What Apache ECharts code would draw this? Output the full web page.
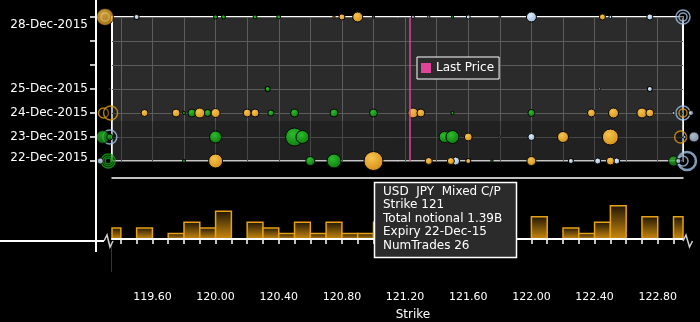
<!DOCTYPE html>
<html><head><meta charset="utf-8">
<script src="https://cdn.jsdelivr.net/npm/echarts@6/dist/echarts.min.js"></script>
<style>html,body{margin:0;padding:0;background:#000;}#c{width:700px;height:322px;}</style>
</head><body><div id="c"></div>
<script>
// ---------------- data ----------------
const expiryDays   = [22, 23, 24, 25, 26, 27, 28];
const expiryLabels = ['22-Dec-2015', '23-Dec-2015', '24-Dec-2015', '25-Dec-2015', '', '', '28-Dec-2015'];
const gridStrikes  = [119.4, 119.6, 119.8, 120.0, 120.2, 120.4, 120.6, 120.8, 121.0, 121.2, 121.4, 121.6, 121.8, 122.0, 122.2, 122.4, 122.6, 122.8];
const labelStrikes = [119.6, 120.0, 120.4, 120.8, 121.2, 121.6, 122.0, 122.4, 122.8];
const tickStrikes  = [119.4, 119.5, 119.6, 119.7, 119.8, 119.9, 120.0, 120.1, 120.2, 120.3, 120.4, 120.5, 120.6, 120.7, 120.8, 120.9,
                      121.0, 121.1, 121.2, 121.3, 121.4, 121.5, 121.6, 121.7, 121.8, 121.9, 122.0, 122.1, 122.2, 122.3, 122.4, 122.5,
                      122.6, 122.7, 122.8, 122.9];
const lastPrice = 121.23;

// [strike, expiry day (Dec 2015), total notional in USD millions]
const mixedTrades = [
  [120.75, 28, 22], [120.80, 28, 140], [120.90, 28, 385], [122.45, 28, 140],
  [119.55, 24, 190], [119.75, 24, 245], [119.90, 24, 385], [120.00, 24, 310], [120.20, 24, 245], [120.25, 24, 245],
  [121.25, 24, 385], [121.30, 24, 245], [122.38, 24, 245], [122.52, 24, 385], [122.70, 24, 385], [122.75, 24, 245],
  [121.60, 23, 245], [122.20, 23, 465], [122.50, 23, 985],
  [120.00, 22, 755], [121.00, 22, 1390], [121.35, 22, 190], [121.49, 22, 190], [121.60, 22, 95], [122.00, 22, 310], [122.50, 22, 245]
];
const callTrades = [
  [120.00, 28, 60], [120.05, 28, 60], [120.25, 28, 60], [120.40, 28, 60], [121.00, 28, 22], [121.50, 28, 22],
  [120.33, 25, 95],
  [119.80, 24, 35], [119.85, 24, 245], [119.95, 24, 190], [120.35, 24, 140], [120.50, 24, 245], [120.75, 24, 245],
  [121.00, 24, 245], [121.50, 24, 35], [122.00, 24, 190],
  [120.00, 23, 555], [120.50, 23, 1250], [120.55, 23, 650], [121.45, 23, 465], [121.50, 23, 650],
  [119.80, 22, 35], [120.60, 22, 310], [120.75, 22, 755], [121.75, 22, 22]
];
const putTrades = [
  [119.50, 28, 95], [121.25, 28, 35], [121.35, 28, 22], [121.60, 28, 60], [121.80, 28, 15], [122.00, 28, 385],
  [122.50, 28, 35], [122.75, 28, 140],
  [122.43, 25, 20], [122.75, 25, 95],
  [122.50, 24, 20],
  [121.80, 23, 15], [122.00, 23, 190],
  [121.52, 22, 245], [122.25, 22, 95], [122.42, 22, 140], [122.54, 22, 140]
];
// trades beyond the strike range, stacked at the plot edges: [strike, day, notional, type]
const edgeFilled = [
  [119.30, 28, 1110, 'mixed'], [119.33, 25, 15, 'call'], [119.285, 23, 650, 'call'], [119.33, 23, 140, 'call'],
  [119.27, 22, 140, 'put'], [122.90, 24, 35, 'put'], [123.01, 24, 95, 'put'], [123.03, 23, 385, 'put'],
  [122.97, 23, 35, 'put'], [122.90, 22, 385, 'call'], [122.93, 22, 95, 'put']
];
const edgeRings = [
  [119.30, 28, 250, 'put'], [119.29, 24, 385, 'mixed'], [119.335, 24, 755, 'mixed'], [119.33, 23, 755, 'put'],
  [119.32, 22, 755, 'call'], [119.32, 22, 385, 'call'], [119.32, 22, 140, 'call'],
  [122.96, 28, 755, 'put'], [122.96, 28, 250, 'put'], [122.96, 24, 755, 'put'], [122.96, 24, 250, 'mixed'],
  [122.945, 23, 555, 'mixed'], [122.985, 22, 1250, 'put'], [122.96, 22, 385, 'put']
];
// histogram of trades per 0.1 strike bin
const histBins   = [119.3, 119.5, 119.7, 119.8, 119.9, 120.0, 120.2, 120.3, 120.4, 120.5, 120.6, 120.7, 120.8, 120.9,
                    121.0, 121.2, 121.3, 121.4, 121.5, 121.6, 121.7, 122.0, 122.2, 122.3, 122.4, 122.5, 122.7, 122.9];
const histCounts = [2, 2, 1, 3, 2, 5, 3, 2, 1, 3, 1, 3, 1, 1,
                    3, 2, 1, 2, 3, 2, 1, 4, 2, 1, 3, 6, 4, 4];
const binWidth = 0.1;
const tipLines = ['USD  JPY  Mixed C/P', 'Strike 121', 'Total notional 1.39B', 'Expiry 22-Dec-15', 'NumTrades 26'];

// ---------------- styling ----------------
const FONT = 'DejaVu Sans';
const X_MIN = 119.344, X_MAX = 122.96;
function radial(c0, c1) {
  return new echarts.graphic.RadialGradient(0.4, 0.35, 0.75, [{offset: 0, color: c0}, {offset: 1, color: c1}]);
}
const fills = {
  mixed: radial('#f6c250', '#d08b0e'),
  call:  radial('#2cbc2c', '#0a730a'),
  put:   radial('#dbeaf8', '#8fb1d4')
};
const ringColors = {mixed: '#d99a12', call: '#18a418', put: '#a2c4e6'};
const sizeOf = v => 0.51 * Math.sqrt(v[2]);

function bubbleSeries(name, rows, type) {
  return {
    name, type: 'scatter', xAxisIndex: 0, yAxisIndex: 0, clip: false, silent: true, z: 4,
    data: rows.map(r => [r[0], r[1], r[2]]),
    symbolSize: sizeOf,
    itemStyle: {color: fills[type], borderColor: '#050505', borderWidth: 1, opacity: 1}
  };
}

const chart = echarts.init(document.getElementById('c'), null, {renderer: 'canvas'});
const option = {
  backgroundColor: '#000',
  animation: false,
  textStyle: {fontFamily: FONT},
  legend: {
    data: ['Last Price'], left: 417, top: 57, icon: 'rect', itemWidth: 10, itemHeight: 10,
    backgroundColor: '#2b2b2b', borderColor: '#fff', borderWidth: 1, borderRadius: 0,
    padding: [5, 5, 5, 4], textStyle: {color: '#fff', fontSize: 12, fontFamily: FONT}, selectedMode: false
  },
  grid: [
    {left: 112, top: 17, width: 571, height: 144, show: true, backgroundColor: '#2b2b2b', borderColor: '#fff', borderWidth: 2},
    {left: 112, top: 178, width: 571, height: 63}
  ],
  xAxis: [
    {type: 'value', gridIndex: 0, min: X_MIN, max: X_MAX,
     axisLine: {show: false}, axisLabel: {show: false},
     axisTick: {show: false, customValues: gridStrikes},
     splitLine: {show: true, lineStyle: {color: '#5c5c5c', width: 1}}},
    {type: 'value', gridIndex: 1, min: X_MIN, max: X_MAX, position: 'bottom', z: 6,
     axisLine: {show: true, lineStyle: {color: '#fff', width: 2}},
     axisTick: {show: true, customValues: tickStrikes, length: 5, inside: false, lineStyle: {color: '#fff', width: 1.5}},
     axisLabel: {show: true, customValues: labelStrikes, margin: 53, color: '#fff', fontSize: 11, fontFamily: FONT,
                 formatter: v => Number(v).toFixed(2)},
     splitLine: {show: false},
     name: 'Strike', nameLocation: 'middle', nameGap: 70,
     nameTextStyle: {color: '#fff', fontSize: 12, fontFamily: FONT, padding: [0, 0, 0, 31]}},
    {type: 'value', gridIndex: 1, min: X_MIN, max: X_MAX, position: 'top',
     axisLine: {show: true, lineStyle: {color: '#fff', width: 1.5}},
     axisTick: {show: false}, axisLabel: {show: false}, splitLine: {show: false}}
  ],
  yAxis: [
    {type: 'value', gridIndex: 0, min: 22, max: 28, interval: 1, offset: 16,
     axisLine: {show: true, lineStyle: {color: '#fff', width: 2}},
     axisTick: {show: true, length: 6, lineStyle: {color: '#fff', width: 1.5}},
     axisLabel: {
       show: true, showMinLabel: true, showMaxLabel: true, margin: 8, color: '#fff', fontSize: 12, fontFamily: FONT,
       formatter: v => {
         const i = expiryDays.indexOf(Math.round(v));
         const t = i < 0 ? '' : expiryLabels[i];
         if (!t) return '';
         if (v === expiryDays[0]) return '{lo|' + t + '}';
         if (v === expiryDays[expiryDays.length - 1]) return '{hi|' + t + '}';
         return t;
       },
       rich: {
         lo: {padding: [0, 0, 6, 0], color: '#fff', fontSize: 12, fontFamily: FONT},
         hi: {padding: [16, 0, 0, 0], color: '#fff', fontSize: 12, fontFamily: FONT}
       }
     },
     splitLine: {show: true, lineStyle: {color: '#5c5c5c', width: 1}}},
    {type: 'value', gridIndex: 1, min: 0, max: 11, show: false, splitLine: {show: false}}
  ],
  series: [
    {name: 'band', type: 'line', xAxisIndex: 0, yAxisIndex: 0, data: [], z: 1, silent: true,
     markArea: {silent: true, itemStyle: {color: 'rgba(0,0,0,0.22)'}, data: [[{yAxis: 22}, {yAxis: 23.67}]]}},
    {name: 'Last Price', type: 'line', xAxisIndex: 0, yAxisIndex: 0, data: [], z: 2, color: '#e0449a', silent: true,
     markLine: {silent: true, symbol: 'none', label: {show: false},
                lineStyle: {color: '#e0449a', width: 1.5, type: 'solid'}, data: [{xAxis: lastPrice}]}},
    {name: 'edge rings', type: 'scatter', xAxisIndex: 0, yAxisIndex: 0, clip: false, silent: true, z: 3,
     symbolSize: sizeOf,
     data: edgeRings.map(r => ({value: [r[0], r[1], r[2]],
       itemStyle: {color: 'rgba(0,0,0,0.35)', borderColor: ringColors[r[3]], borderWidth: r[2] > 1000 ? 2.5 : 1.5}}))},
    {name: 'edge', type: 'scatter', xAxisIndex: 0, yAxisIndex: 0, clip: false, silent: true, z: 3,
     symbolSize: sizeOf,
     data: edgeFilled.map(r => ({value: [r[0], r[1], r[2]],
       itemStyle: {color: fills[r[3]], borderColor: '#050505', borderWidth: 1}}))},
    bubbleSeries('Call', callTrades, 'call'),
    bubbleSeries('Put', putTrades, 'put'),
    bubbleSeries('Mixed C/P', mixedTrades, 'mixed'),
    {name: 'Trades', type: 'custom', xAxisIndex: 1, yAxisIndex: 1, silent: true, z: 2,
     data: histBins.map((b, i) => [b, histCounts[i]]),
     renderItem: (params, api) => {
       const x0 = api.value(0), c = api.value(1);
       const p0 = api.coord([x0, c]);
       const p1 = api.coord([x0 + binWidth, 0]);
       const cs = params.coordSys;
       const rect = echarts.graphic.clipRectByRect(
         {x: p0[0], y: p0[1], width: p1[0] - p0[0], height: p1[1] - p0[1]},
         {x: cs.x, y: cs.y, width: cs.width, height: cs.height});
       if (!rect) return null;
       return {type: 'rect', shape: rect, style: {
         fill: new echarts.graphic.LinearGradient(0, 0, 0, 1, [
           {offset: 0, color: '#1e1606'}, {offset: 1, color: '#d08c0e'}]),
         stroke: '#e6a115', lineWidth: 1.5}};
     }}
  ],
  graphic: [
    {type: 'line', z: 50, silent: true, shape: {x1: 96, y1: 0, x2: 96, y2: 252}, style: {stroke: '#fff', lineWidth: 2}},
    {type: 'line', z: 50, silent: true, shape: {x1: 0, y1: 241, x2: 104, y2: 241}, style: {stroke: '#fff', lineWidth: 2}},
    {type: 'line', z: 50, silent: true, shape: {x1: 111.5, y1: 243, x2: 111.5, y2: 272}, style: {stroke: '#333', lineWidth: 1}},
    {type: 'polyline', z: 50, silent: true, shape: {points: [[104, 241], [107, 235], [110, 247], [113, 241]]},
     style: {stroke: '#cfcfcf', lineWidth: 1.5, fill: null}},
    {type: 'polyline', z: 50, silent: true, shape: {points: [[683, 241], [686, 235], [689.5, 247], [692.5, 241]]},
     style: {stroke: '#cfcfcf', lineWidth: 1.5, fill: null}},
    {type: 'group', z: 100, silent: true, children: [
      {type: 'rect', z: 100, shape: {x: 374.5, y: 182.5, width: 142, height: 75},
       style: {fill: '#2b2b2b', stroke: '#fff', lineWidth: 1.5}},
      {type: 'text', z: 101, x: 383, y: 185,
       style: {text: tipLines.join('\n'), fill: '#fff', font: '12px "DejaVu Sans"', lineHeight: 13.5,
               verticalAlign: 'top', align: 'left'}}
    ]}
  ]
};
chart.setOption(option);
</script>
</body></html>
